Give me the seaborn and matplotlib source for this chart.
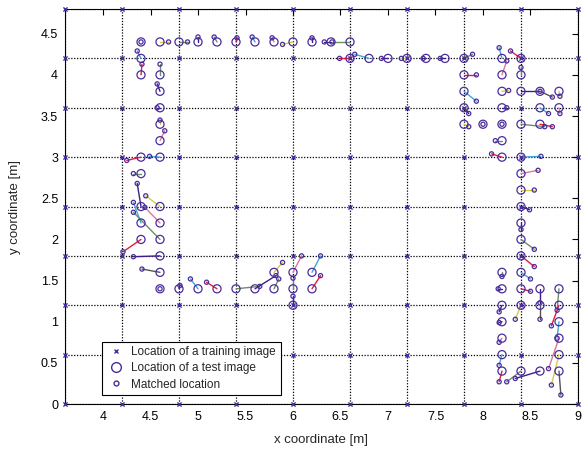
import matplotlib
matplotlib.use("Agg")

import matplotlib.pyplot as plt
from matplotlib.lines import Line2D
import seaborn as sns
import pandas as pd

# Training image grid (every 0.6 m)
grid_x = [3.6, 4.2, 4.8, 5.4, 6.0, 6.6, 7.2, 7.8, 8.4, 9.0]
grid_y = [0.0, 0.6, 1.2, 1.8, 2.4, 3.0, 3.6, 4.2, 4.8]

# Test image locations
test_x = [4.4, 4.6, 4.8, 5.0, 5.2, 5.4, 5.6, 5.8, 6.0, 6.2, 6.4, 6.6,
          6.6, 6.8, 7.0, 7.2, 7.4, 7.6, 7.8,
          7.8, 7.8, 7.8, 7.8, 8.0, 8.2, 8.2, 8.2, 8.2, 8.2, 8.2, 8.4, 8.4,
          8.4, 8.6, 8.8, 8.6, 8.8, 8.4, 8.6,
          8.2, 8.4, 8.4, 8.4, 8.4, 8.4, 8.4, 8.4, 8.4, 8.2, 8.4, 8.2, 8.6, 8.8,
          8.2, 8.4, 8.6, 8.8, 8.2, 8.8, 8.2, 8.8, 8.2, 8.8, 8.2, 8.4, 8.6, 8.8,
          4.4, 4.4, 4.6, 4.6, 4.6, 4.6, 4.6, 4.4, 4.6, 4.4, 4.4, 4.6, 4.4, 4.6,
          4.4, 4.6, 4.6, 4.6, 4.6,
          4.8, 5.0, 5.2, 5.4, 5.6, 5.8, 5.8, 6.0, 6.0, 6.0, 6.2, 6.2]
test_y = [4.4, 4.4, 4.4, 4.4, 4.4, 4.4, 4.4, 4.4, 4.4, 4.4, 4.4, 4.4,
          4.2, 4.2, 4.2, 4.2, 4.2, 4.2, 4.2,
          4.0, 3.8, 3.6, 3.4, 3.4, 3.4, 3.2, 3.6, 3.8, 4.0, 4.2, 4.2, 4.0,
          3.8, 3.8, 3.8, 3.6, 3.6, 3.4, 3.4,
          3.0, 3.0, 2.8, 2.6, 2.4, 2.2, 2.0, 1.8, 1.6, 1.6, 1.4, 1.4, 1.4, 1.4,
          1.2, 1.2, 1.2, 1.2, 1.0, 1.0, 0.8, 0.8, 0.6, 0.6, 0.4, 0.4, 0.4, 0.4,
          4.2, 4.0, 4.0, 3.8, 3.6, 3.4, 3.2, 3.0, 3.0, 2.8, 2.4, 2.4, 2.2, 2.2,
          2.0, 2.0, 1.8, 1.6, 1.4,
          1.4, 1.4, 1.4, 1.4, 1.4, 1.6, 1.4, 1.6, 1.4, 1.2, 1.6, 1.4]

# Matched locations (one per test image)
match_x = [4.40, 4.69, 4.89, 5.00, 5.17, 5.41, 5.57, 5.78, 5.89, 6.20, 6.33, 6.41,
           6.49, 6.65, 6.93, 7.14, 7.37, 7.55, 7.89,
           7.93, 7.93, 7.85, 7.85, 8.00, 8.20, 8.13, 8.25, 8.27, 8.25, 8.17, 8.29, 8.40,
           8.60, 8.73, 8.81, 8.69, 8.81, 8.65, 8.73,
           8.09, 8.61, 8.58, 8.54, 8.49, 8.40, 8.54, 8.54, 8.50, 8.20, 8.50, 8.16, 8.60, 8.78,
           8.17, 8.34, 8.60, 8.72, 8.17, 8.78, 8.17, 8.69, 8.17, 8.72, 8.17, 8.25, 8.34, 8.82,
           4.36, 4.41, 4.60, 4.57, 4.57, 4.60, 4.65, 4.25, 4.49, 4.32, 4.36, 4.45, 4.32, 4.44,
           4.21, 4.32, 4.32, 4.41, 4.60,
           4.81, 4.92, 5.09, 5.65, 5.82, 5.89, 5.85, 6.09, 6.00, 6.00, 6.29, 6.29]
match_y = [4.40, 4.40, 4.40, 4.46, 4.46, 4.45, 4.46, 4.45, 4.37, 4.45, 4.40, 4.40,
           4.20, 4.25, 4.20, 4.20, 4.20, 4.20, 4.25,
           4.00, 3.68, 3.53, 3.37, 3.40, 3.40, 3.20, 3.60, 3.81, 4.17, 4.33, 4.29, 4.09,
           3.80, 3.73, 3.74, 3.53, 3.53, 3.37, 3.37,
           3.04, 3.01, 2.84, 2.60, 2.36, 2.12, 1.88, 1.67, 1.52, 1.55, 1.37, 1.40, 1.23, 1.14,
           1.12, 1.03, 1.03, 0.95, 0.99, 0.80, 0.75, 0.43, 0.47, 0.23, 0.27, 0.27, 0.31, 0.11,
           4.29, 4.13, 4.13, 3.89, 3.60, 3.45, 3.32, 2.96, 3.01, 2.80, 2.68, 2.53, 2.45, 2.39,
           1.85, 2.33, 1.79, 1.64, 1.40,
           1.44, 1.52, 1.48, 1.43, 1.56, 1.72, 1.52, 1.80, 1.53, 1.31, 1.80, 1.56]

# Colour of the link between each test image and its match
link_colors = ["p", "y", "g", "p", "g", "r", "c", "k", "y", "p", "p", "g",
               "r", "c", "p", "y", "p", "p", "g",
               "r", "c", "p", "y", "p", "p", "g", "p", "y", "k", "c", "r", "g",
               "p", "d", "y", "c", "k", "g", "r",
               "r", "c", "k", "y", "p", "p", "g", "r", "c", "g", "r", "p", "p", "g",
               "p", "y", "d", "r", "p", "c", "k", "k", "c", "y", "r", "g", "p", "d",
               "c", "r", "g", "p", "p", "y", "k", "r", "c", "g", "p", "y", "c", "k",
               "r", "g", "p", "d", "p",
               "p", "c", "r", "g", "p", "y", "g", "k", "g", "p", "c", "r"]

PALETTE = {"p": "#3b1f86", "y": "#d2cc4a", "g": "#6b8f6b", "c": "#3fa7d6",
           "k": "#d9789a", "r": "#e8193c", "d": "#555555"}
MARKER_COLOR = "#4b2c9c"

sns.set_style("white")
plt.rcParams["font.family"] = ["Liberation Sans", "DejaVu Sans"]

fig = plt.figure(figsize=(5.82, 4.49), dpi=100)
ax = fig.add_axes([0.1117, 0.1002, 0.8814, 0.8797])

# dotted grid on the training positions
for gx in grid_x:
    ax.axvline(gx, color="black", linestyle=(0, (1, 1.3)), linewidth=0.9, zorder=1)
for gy in grid_y:
    ax.axhline(gy, color="black", linestyle=(0, (1, 1.3)), linewidth=0.9, zorder=1)

train = pd.DataFrame([(gx, gy) for gx in grid_x for gy in grid_y], columns=["x", "y"])
pairs = pd.DataFrame({"tx": test_x, "ty": test_y, "mx": match_x, "my": match_y,
                      "col": link_colors})

for _, row in pairs.iterrows():
    ax.plot([row.tx, row.mx], [row.ty, row.my], color=PALETTE[row.col],
            linewidth=1.0, zorder=2)

sns.scatterplot(data=train, x="x", y="y", marker="x", s=9, color=MARKER_COLOR,
                linewidth=1.0, ax=ax, zorder=4, clip_on=False)
sns.scatterplot(data=pairs, x="tx", y="ty", marker="o", s=34, facecolor="none",
                edgecolor=MARKER_COLOR, linewidth=0.9, ax=ax, zorder=3)
sns.scatterplot(data=pairs, x="mx", y="my", marker="o", s=9, facecolor="none",
                edgecolor=MARKER_COLOR, linewidth=0.9, ax=ax, zorder=3)

ax.set_xlim(3.6, 9.0)
ax.set_ylim(0, 4.8)
ax.set_xticks([4, 4.5, 5, 5.5, 6, 6.5, 7, 7.5, 8, 8.5, 9])
ax.set_xticklabels(["4", "4.5", "5", "5.5", "6", "6.5", "7", "7.5", "8", "8.5", "9"])
ax.set_yticks([0, 0.5, 1, 1.5, 2, 2.5, 3, 3.5, 4, 4.5])
ax.set_yticklabels(["0", "0.5", "1", "1.5", "2", "2.5", "3", "3.5", "4", "4.5"])
ax.tick_params(direction="in", length=4, width=0.8, top=True, right=True,
               labelsize=9, colors="black", pad=5)
for sp in ax.spines.values():
    sp.set_color("black")
    sp.set_linewidth(0.8)
ax.set_xlabel("x coordinate [m]", fontsize=9.5, labelpad=8)
ax.set_ylabel("y coordinate [m]", fontsize=9.5, labelpad=14)

handles = [
    Line2D([], [], linestyle="none", marker="x", markersize=3, color=MARKER_COLOR,
           markeredgewidth=1.0),
    Line2D([], [], linestyle="none", marker="o", markersize=7, markerfacecolor="none",
           markeredgecolor=MARKER_COLOR, markeredgewidth=1.0),
    Line2D([], [], linestyle="none", marker="o", markersize=3.5, markerfacecolor="none",
           markeredgecolor=MARKER_COLOR, markeredgewidth=1.0),
]
labels = ["Location of a training image", "Location of a test image", "Matched location"]
leg = ax.legend(handles, labels, loc="lower left", bbox_to_anchor=(0.072, 0.022),
                fontsize=8.5, frameon=True, fancybox=False, framealpha=1,
                edgecolor="black", borderpad=0.4, labelspacing=0.35,
                handletextpad=0.6, handlelength=1.5, borderaxespad=0)
leg.get_frame().set_linewidth(0.8)
leg.set_zorder(10)

fig.savefig("out.png", dpi=100)
